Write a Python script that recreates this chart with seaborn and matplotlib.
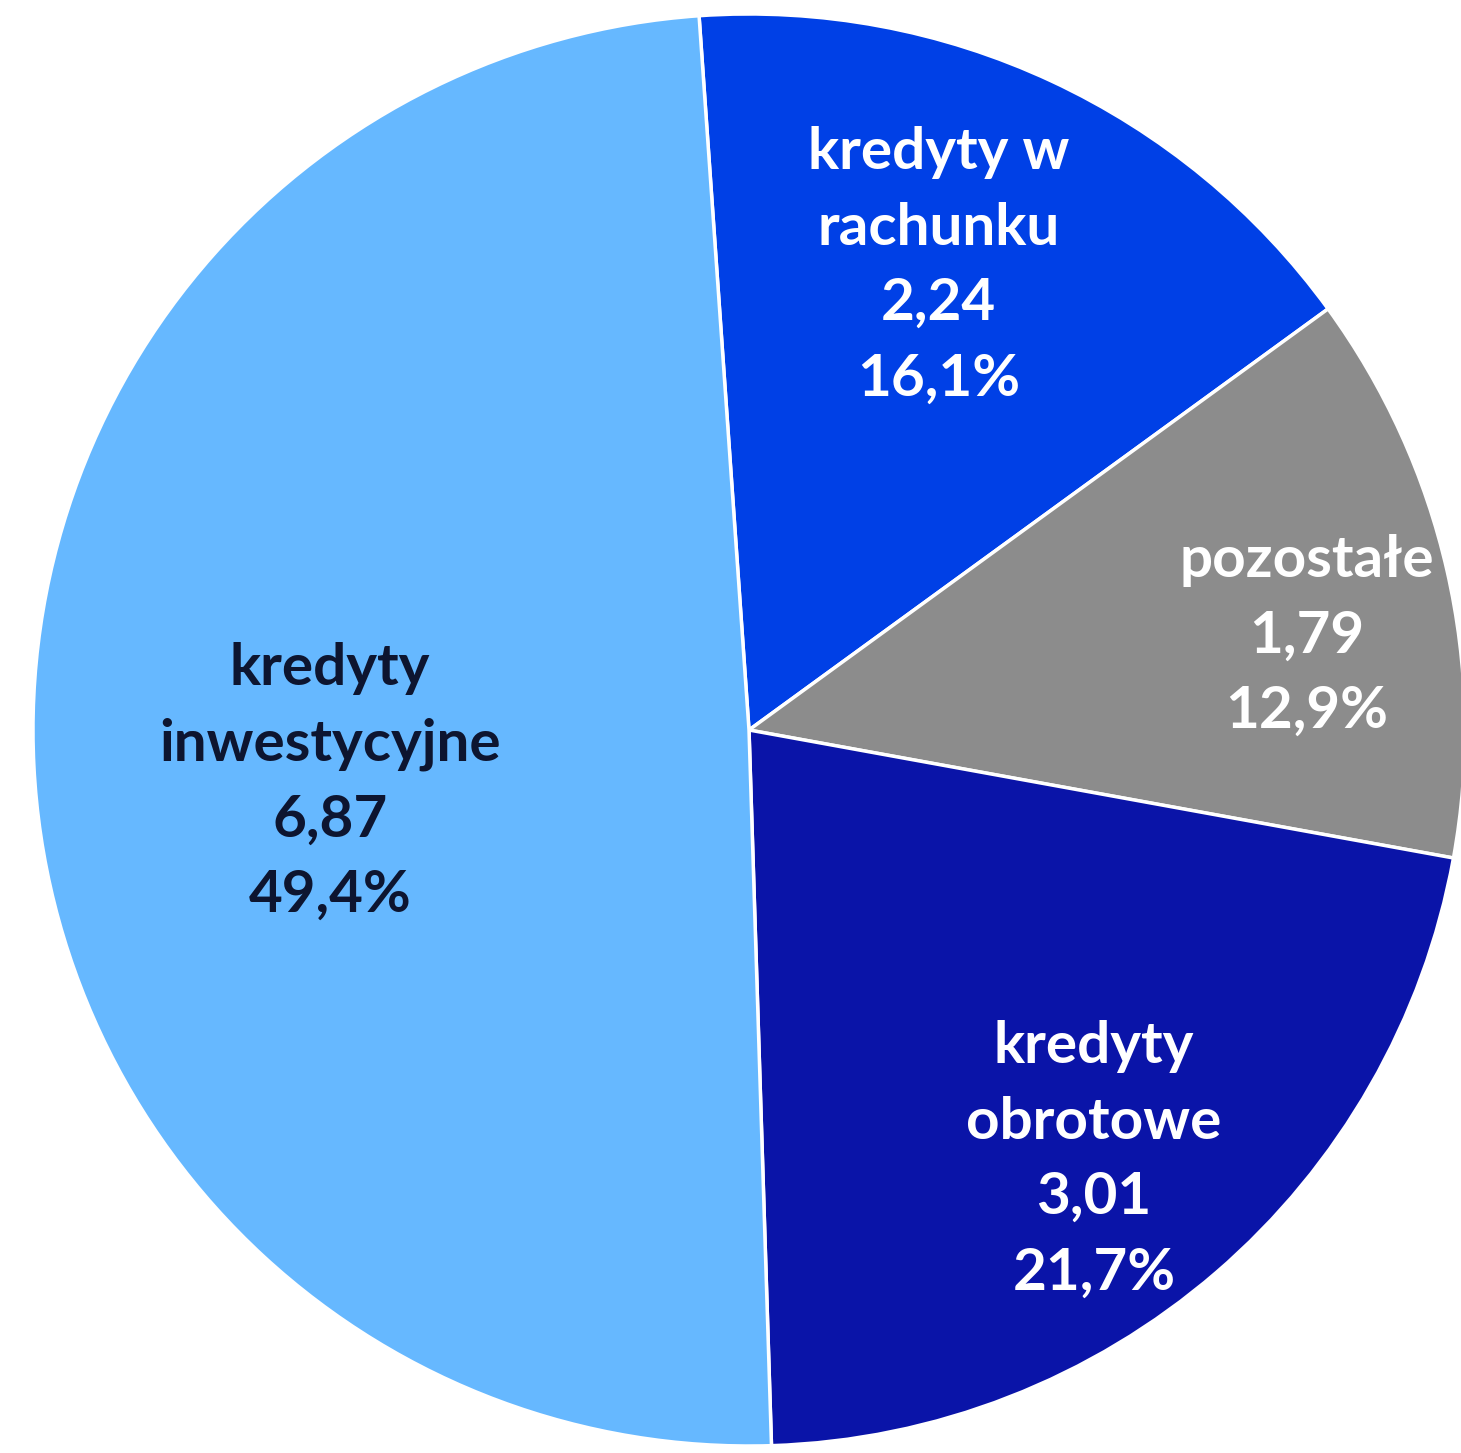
import numpy as np
import matplotlib
matplotlib.use("Agg")
import matplotlib.pyplot as plt
import seaborn as sns

# data (clockwise from top)
categories = ["kredyty w\nrachunku", "pozostałe", "kredyty\nobrotowe", "kredyty\ninwestycyjne"]
values = [2.24, 1.79, 3.01, 6.87]
shares = [16.1, 12.9, 21.7, 49.4]

colors = ["#0040E6", "#8C8C8C", "#0A14A8", "#66B8FF"]
text_colors = ["white", "white", "white", "#0D1530"]
label_r = [0.70, 0.79, 0.77, 0.59]
label_dang = [2.8, -3.3, -2.0, 4.2]

sns.set_style("white")
plt.rcParams["font.family"] = ["Lato", "DejaVu Sans"]

fig = plt.figure(figsize=(14.61, 14.53), dpi=100)
ax = fig.add_axes([33 / 1461, 7 / 1453, 1432 / 1461, 1432 / 1453])

wedges, _ = ax.pie(values, colors=colors, startangle=94, counterclock=False,
                   wedgeprops=dict(edgecolor="white", linewidth=2.5))
ax.set_xlim(-1, 1)
ax.set_ylim(-1, 1)
ax.set_aspect("equal")
ax.axis("off")

for w, cat, v, s, tc, r, da in zip(wedges, categories, values, shares,
                                  text_colors, label_r, label_dang):
    ang = np.deg2rad((w.theta1 + w.theta2) / 2 + da)
    txt = f"{cat}\n{v:.2f}\n{s:.1f}%".replace(".", ",")
    ax.text(r * np.cos(ang), r * np.sin(ang), txt, ha="center", va="center",
            color=tc, fontsize=42, fontweight="bold", linespacing=1.52)

fig.savefig("out.png", dpi=100, facecolor="white")
